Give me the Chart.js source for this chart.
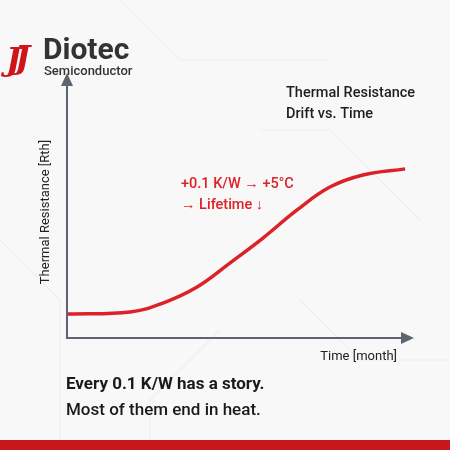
<!DOCTYPE html>
<html>
<head>
<meta charset="utf-8">
<script src="https://cdn.jsdelivr.net/npm/chart.js@4"></script>
<style>
  html, body { margin: 0; padding: 0; background: #f7f7f7; }
  #wrap { position: relative; width: 450px; height: 450px; overflow: hidden; }
  #drift { position: absolute; left: 0; top: 0; }
</style>
</head>
<body>
<div id="wrap"><canvas id="drift" width="450" height="450"></canvas></div>
<script>
// valores (unidades arbitrárias)
const months = [0.03, 1.83, 2.78, 3.77, 4.72, 5.68, 6.67, 7.62, 8.58, 9.8];
const rth = [0.91, 0.99, 1.33, 1.94, 2.85, 3.80, 4.87, 5.74, 6.2, 6.43];
const titleLines = ['Thermal Resistance', 'Drift vs. Time'];
const noteLines = ['+0.1 K/W \u2192 +5\u00b0C', '\u2192 Lifetime \u2193'];
const taglines = ['Every 0.1 K/W has a story.', 'Most of them end in heat.'];

const RED = '#dc2229';
const AXIS = '#5c6570';

// fundo, eixos e textos
const decor = {
    id: 'decor',
    beforeDraw(chart) {
        const c = chart.ctx;
        c.save();
        c.fillStyle = '#f8f8f8';
        c.fillRect(0, 0, 450, 450);
        // traços de circuito bem discretos
        c.strokeStyle = 'rgba(0,0,0,0.04)';
        c.lineWidth = 1.2;
        [[120, 0, 180, 60, 330, 60], [260, 130, 330, 130, 420, 220], [0, 240, 60, 300, 60, 450],
         [300, 300, 360, 360, 450, 360], [150, 450, 150, 400, 220, 330]].forEach(p => {
            c.beginPath();
            c.moveTo(p[0], p[1]);
            for (let i = 2; i < p.length; i += 2) c.lineTo(p[i], p[i + 1]);
            c.stroke();
        });
        // barra vermelha inferior
        c.fillStyle = '#c8161d';
        c.fillRect(0, 440, 450, 10);
        c.restore();
    },
    afterDraw(chart) {
        const c = chart.ctx;
        const x = chart.scales.x, y = chart.scales.y;
        const x0 = x.getPixelForValue(0), y0 = y.getPixelForValue(0);
        const xEnd = x.getPixelForValue(10), yEnd = y.getPixelForValue(10);
        c.save();
        c.strokeStyle = AXIS;
        c.fillStyle = AXIS;
        c.lineWidth = 2;
        c.beginPath();
        c.moveTo(x0, yEnd + 8);
        c.lineTo(x0, y0);
        c.lineTo(xEnd - 8, y0);
        c.stroke();
        // setas
        c.beginPath();
        c.moveTo(x0, yEnd - 2); c.lineTo(x0 - 6, yEnd + 11); c.lineTo(x0 + 6, yEnd + 11); c.closePath();
        c.fill();
        c.beginPath();
        c.moveTo(xEnd + 2, y0); c.lineTo(xEnd - 11, y0 - 6); c.lineTo(xEnd - 11, y0 + 6); c.closePath();
        c.fill();

        // rótulos dos eixos
        c.fillStyle = '#222';
        c.font = '13px Roboto';
        c.textAlign = 'right';
        c.fillText('Time [month]', 397, 360);
        c.save();
        c.translate(49, 212);
        c.rotate(-Math.PI / 2);
        c.textAlign = 'center';
        c.fillText('Thermal Resistance [Rth]', 0, 0);
        c.restore();

        // título
        c.textAlign = 'left';
        c.font = '500 14.5px Roboto';
        c.fillStyle = '#1e1e1e';
        c.fillText(titleLines[0], 286, 97);
        c.fillText(titleLines[1], 286, 118);

        // nota em vermelho
        c.fillStyle = RED;
        c.font = '500 14.5px Roboto';
        c.fillText(noteLines[0], 181, 188);
        c.fillText(noteLines[1], 181, 209);

        // frases
        c.fillStyle = '#1a1a1a';
        c.font = 'bold 17px Roboto';
        c.fillText(taglines[0], 66, 389);
        c.font = '500 17px Roboto';
        c.fillText(taglines[1], 66, 415);

        // logotipo
        c.fillStyle = '#d0141c';
        c.font = 'italic bold 32px "DejaVu Serif"';
        c.fillText('J', 6, 70);
        c.fillText('J', 15, 68);
        c.fillStyle = '#333';
        c.font = 'bold 30px Roboto';
        c.fillText('Diotec', 43, 59);
        c.font = '500 13px Roboto';
        c.fillText('Semiconductor', 44, 75);
        c.restore();
    }
};

new Chart(document.getElementById('drift'), {
    type: 'line',
    data: {
        datasets: [{
            data: months.map((m, i) => ({ x: m, y: rth[i] })),
            borderColor: RED,
            borderWidth: 3.5,
            pointRadius: 0,
            tension: 0.4,
            fill: false
        }]
    },
    options: {
        responsive: false,
        animation: false,
        layout: { padding: { left: 67, right: 38, top: 75, bottom: 112 } },
        scales: {
            x: { type: 'linear', min: 0, max: 10, display: false },
            y: { min: 0, max: 10, display: false }
        },
        plugins: { legend: { display: false }, tooltip: { enabled: false } }
    },
    plugins: [decor]
});
</script>
</body>
</html>
